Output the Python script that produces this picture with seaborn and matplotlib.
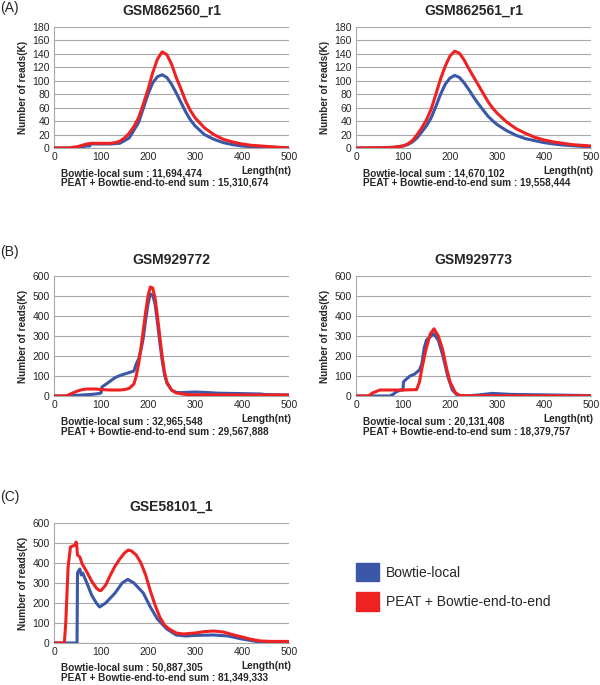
import numpy as np
import pandas as pd
import seaborn as sns
import matplotlib.pyplot as plt
from matplotlib.patches import Patch

sns.set_style("white")
plt.rcParams['font.family'] = ['Liberation Sans', 'DejaVu Sans']

BLUE = "#3B57A7"
RED = "#EE2222"

# GSM862560_r1
a1_blue_x = [0, 40, 50, 60, 70, 76, 78, 100, 120, 140, 160, 180, 200, 210, 220, 230, 240, 250, 260, 270, 280, 290, 300, 320, 340, 360, 380, 400, 420, 450, 500]
a1_blue_y = [0, 0, 1, 2, 3, 3, 6, 6, 6, 7, 15, 38, 80, 97, 106, 109, 105, 95, 82, 68, 54, 42, 33, 20, 13, 8, 5, 3, 2, 1, 0.5]
a1_red_x = [0, 30, 40, 50, 60, 70, 80, 100, 120, 130, 140, 150, 160, 170, 180, 190, 200, 210, 220, 230, 240, 250, 260, 270, 280, 290, 300, 320, 340, 360, 380, 400, 420, 440, 460, 480, 500]
a1_red_y = [0, 0, 1, 2, 4, 6, 7, 7, 7, 8, 10, 15, 22, 32, 45, 65, 87, 112, 132, 143, 139, 125, 105, 88, 70, 56, 45, 30, 20, 13, 9, 6, 4, 3, 2, 1, 0.5]

# GSM862561_r1
a2_blue_x = [0, 50, 80, 100, 110, 120, 130, 140, 150, 160, 170, 180, 190, 200, 210, 220, 230, 240, 250, 260, 270, 280, 290, 300, 320, 340, 360, 380, 400, 420, 440, 460, 480, 500]
a2_blue_y = [0, 0.3, 1, 3, 5, 9, 15, 24, 33, 45, 62, 80, 95, 104, 108, 105, 97, 87, 76, 66, 57, 48, 41, 35, 26, 19, 14, 11, 8, 6, 4.5, 3.5, 2.5, 2]
a2_red_x = [0, 50, 80, 100, 110, 120, 130, 140, 150, 160, 170, 180, 190, 200, 210, 220, 230, 240, 250, 260, 270, 280, 290, 300, 320, 340, 360, 380, 400, 420, 440, 460, 480, 500]
a2_red_y = [0, 0.3, 1, 3, 6, 11, 20, 30, 42, 58, 80, 103, 122, 137, 144, 141, 131, 118, 106, 94, 82, 70, 60, 52, 39, 29, 22, 16, 12, 9, 7, 5, 4, 3]

# GSM929772
b1_blue_x = [0, 30, 40, 60, 80, 95, 100, 102, 110, 120, 130, 140, 150, 160, 170, 175, 180, 185, 190, 195, 200, 205, 210, 215, 220, 225, 230, 235, 240, 250, 260, 270, 300, 320, 350, 400, 440, 450, 500]
b1_blue_y = [0, 0, 2, 5, 8, 12, 15, 45, 58, 75, 92, 102, 110, 117, 125, 160, 185, 230, 290, 380, 460, 510, 505, 460, 370, 270, 180, 110, 65, 30, 18, 17, 20, 18, 14, 12, 10, 7, 5]
b1_red_x = [0, 25, 30, 40, 50, 60, 70, 90, 100, 120, 140, 150, 160, 170, 175, 180, 185, 190, 195, 200, 205, 210, 215, 220, 225, 230, 235, 240, 250, 260, 280, 300, 400, 500]
b1_red_y = [0, 0, 5, 15, 25, 32, 35, 35, 32, 30, 30, 32, 38, 60, 100, 160, 240, 330, 420, 500, 545, 540, 490, 400, 300, 200, 120, 70, 30, 15, 8, 6, 5, 5]

# GSM929773
b2_blue_x = [0, 72, 80, 85, 95, 100, 101, 105, 115, 125, 135, 140, 145, 150, 165, 175, 185, 195, 205, 215, 230, 260, 290, 330, 420, 500]
b2_blue_y = [0, 0, 10, 20, 30, 30, 70, 80, 100, 110, 130, 160, 240, 280, 311, 280, 200, 100, 30, 5, 0, 5, 13, 8, 5, 2]
b2_red_x = [0, 26, 35, 51, 100, 129, 135, 140, 149, 158, 166, 175, 184, 193, 200, 211, 220, 240, 500]
b2_red_y = [0, 0, 15, 30, 30, 32, 70, 135, 235, 310, 336, 300, 235, 135, 70, 18, 3, 1, 1]

# GSE58101_1
c_blue_x = [0, 49, 50, 52, 55, 58, 61, 70, 80, 90, 97, 110, 130, 145, 157, 170, 190, 205, 220, 240, 260, 280, 300, 340, 370, 400, 430, 450, 500]
c_blue_y = [0, 0, 350, 360, 370, 340, 350, 300, 240, 200, 180, 200, 250, 300, 318, 300, 250, 180, 120, 70, 40, 35, 38, 40, 35, 20, 8, 5, 5]
c_red_x = [0, 22, 25, 30, 35, 40, 45, 47, 48, 50, 55, 60, 65, 70, 80, 90, 97, 100, 110, 120, 130, 140, 150, 158, 165, 175, 185, 195, 205, 215, 225, 235, 245, 260, 275, 300, 320, 340, 360, 380, 400, 420, 440, 460, 500]
c_red_y = [0, 0, 100, 380, 480, 485, 490, 505, 500, 440, 430, 395, 375, 355, 310, 275, 262, 262, 290, 340, 385, 420, 450, 465, 460, 440, 400, 340, 260, 190, 130, 90, 70, 50, 45, 50, 57, 60, 55, 42, 30, 18, 10, 8, 8]

titles = ["GSM862560_r1", "GSM862561_r1", "GSM929772", "GSM929773", "GSE58101_1"]
sum_local = ["11,694,474", "14,670,102", "32,965,548", "20,131,408", "50,887,305"]
sum_peat = ["15,310,674", "19,558,444", "29,567,888", "18,379,757", "81,349,333"]
ymax = [180, 180, 600, 600, 600]
ystep = [20, 20, 100, 100, 100]
panel_labels = ["(A)", "(B)", "(C)"]

series = [
    (a1_blue_x, a1_blue_y, a1_red_x, a1_red_y),
    (a2_blue_x, a2_blue_y, a2_red_x, a2_red_y),
    (b1_blue_x, b1_blue_y, b1_red_x, b1_red_y),
    (b2_blue_x, b2_blue_y, b2_red_x, b2_red_y),
    (c_blue_x, c_blue_y, c_red_x, c_red_y),
]

W, H = 600, 685
fig = plt.figure(figsize=(6, 6.85), dpi=100)

# left, top, right, bottom in pixels
boxes = [(54, 27, 289, 148), (356, 27, 591, 148),
         (54, 276, 289, 396), (356, 276, 591, 396),
         (54, 523, 289, 643)]

for i, (l, t, r, b) in enumerate(boxes):
    ax = fig.add_axes([l / W, 1 - b / H, (r - l) / W, (b - t) / H])
    bx, by, rx, ry = series[i]
    df_b = pd.DataFrame({"x": bx, "y": by})
    df_r = pd.DataFrame({"x": rx, "y": ry})
    sns.lineplot(data=df_b, x="x", y="y", ax=ax, color=BLUE, lw=2.2, zorder=3)
    sns.lineplot(data=df_r, x="x", y="y", ax=ax, color=RED, lw=2.2, zorder=4)
    ax.set_xlim(0, 500)
    ax.set_ylim(0, ymax[i])
    ax.set_xticks(range(0, 501, 100))
    ax.set_yticks(range(0, ymax[i] + 1, ystep[i]))
    ax.tick_params(labelsize=7.5, length=0, pad=3)
    ax.grid(axis="y", color="#A8A8A8", lw=0.8)
    ax.set_axisbelow(True)
    for s in ["top", "right"]:
        ax.spines[s].set_visible(False)
    ax.spines["left"].set_color("#A8A8A8")
    ax.spines["bottom"].set_color("#A8A8A8")
    ax.set_xlabel("")
    ax.set_ylabel("Number of reads(K)", fontsize=7.2, fontweight="bold", labelpad=3)
    ax.set_title(titles[i], fontsize=10, fontweight="bold", pad=9)
    ax.text(1.01, -0.19, "Length(nt)", transform=ax.transAxes, ha="right", va="center",
            fontsize=7.3, fontweight="bold")
    fig.text((l + 7) / W, 1 - (b + 25) / H, "Bowtie-local sum : " + sum_local[i],
             ha="left", va="center", fontsize=7.2, fontweight="bold")
    fig.text((l + 7) / W, 1 - (b + 35) / H, "PEAT + Bowtie-end-to-end sum : " + sum_peat[i],
             ha="left", va="center", fontsize=7.2, fontweight="bold")

for lab, y in zip(panel_labels, [8, 252, 497]):
    fig.text(0.0, 1 - y / H, lab, ha="left", va="center", fontsize=10)

fig.legend(handles=[Patch(color=BLUE, label="Bowtie-local"),
                    Patch(color=RED, label="PEAT + Bowtie-end-to-end")],
           loc="upper left", bbox_to_anchor=(356 / W, 1 - 563 / H), frameon=False,
           fontsize=10, handlelength=1.65, handleheight=1.65, labelspacing=0.8,
           handletextpad=0.5, borderpad=0, borderaxespad=0)

fig.savefig("out.png", dpi=100)
